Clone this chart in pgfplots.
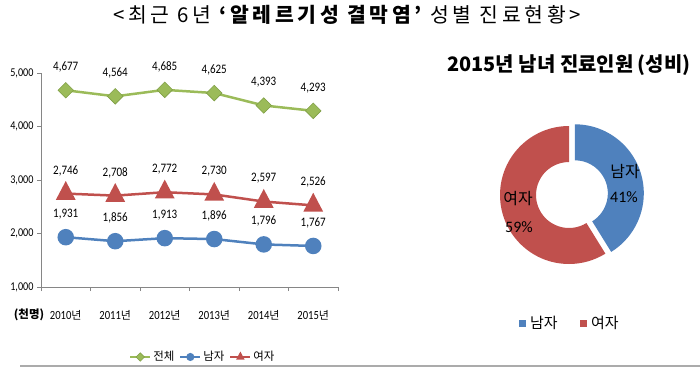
\documentclass[border=0pt]{standalone}
\usepackage{pgfplots}
\pgfplotsset{compat=1.18}
\usepackage{fontspec}
\setmainfont{Carlito}
\newfontfamily\kr{Noto Sans CJK KR}
\newfontfamily\krt[LetterSpace=18]{Noto Sans CJK KR}
\newfontfamily\numf[FakeStretch=0.85]{Carlito}
\definecolor{cgreen}{HTML}{9BBB59}
\definecolor{cgreenD}{HTML}{7F9F45}
\definecolor{cblue}{HTML}{4F81BD}
\definecolor{cred}{HTML}{C0504D}
\definecolor{axgray}{HTML}{868686}
\newcommand{\yr}[1]{{\numf\fontsize{12.5}{14}\selectfont #1}{\kr\fontsize{11}{13}\selectfont 년}}
\begin{document}
\begin{tikzpicture}[x=1bp,y=1bp]
\useasboundingbox (0,0) rectangle (700,373);
% main title
\node at (347,358) {\krt\fontsize{20.5}{23}\selectfont <최근 6년 {\bfseries ‘알레르기성 결막염’} 성별 진료현황>};
% bottom rule
\draw[line width=2bp, color=black!33] (20,7) -- (700,7);

\begin{axis}[
  at={(41bp,86bp)}, anchor=south west,
  scale only axis, width=297bp, height=214bp,
  xmin=-0.5, xmax=5.5, ymin=1000, ymax=5000,
  axis x line*=bottom, axis y line*=left,
  axis line style={draw=axgray, line width=0.8bp, -},
  xtick={-0.5,0.5,...,5.5}, xticklabels={},
  ytick={1000,2000,3000,4000,5000},
  yticklabels={{1,000},{2,000},{3,000},{4,000},{5,000}},
  tick align=outside, major tick length=4bp,
  tick style={draw=axgray, line width=0.8bp},
  yticklabel style={font=\numf\fontsize{12}{13}\selectfont, text=black},
  clip=false,
  nodes near coords={\pgfmathprintnumber[assume math mode=true,fixed,precision=0,1000 sep={,}]{\pgfplotspointmeta}},
  nodes near coords style={font=\numf\fontsize{13}{14}\selectfont, anchor=center, yshift=23bp, text=black},
  legend style={at={(0.545,-0.327)}, anchor=center, draw=none, fill=none,
    legend columns=3, font=\kr\fontsize{11.5}{13}\selectfont,
    /tikz/every even column/.append style={column sep=3bp},
    inner sep=0pt},
  legend image code/.code={\draw[mark repeat=2,mark phase=2,#1,mark size=3bp,line width=2bp] plot coordinates {(0bp,0bp) (10bp,0bp) (20bp,0bp)};},
]
\addplot[color=cgreen, line width=2.5bp, mark=square*, mark size=5.5bp,
  mark options={rotate=45, fill=cgreen, draw=cgreenD, line width=0.6bp}]
  coordinates {(0,4677) (1,4564) (2,4685) (3,4625) (4,4393) (5,4293)};
\addlegendentry{전체}
\addplot[color=cblue, line width=2.5bp, mark=*, mark size=7bp,
  mark options={fill=cblue, draw=cblue}]
  coordinates {(0,1931) (1,1856) (2,1913) (3,1896) (4,1796) (5,1767)};
\addlegendentry{남자}
\addplot[color=cred, line width=2.5bp, mark=triangle*, mark size=9bp,
  mark options={fill=cred, draw=cred, yscale=1.1}]
  coordinates {(0,2746) (1,2708) (2,2772) (3,2730) (4,2597) (5,2526)};
\addlegendentry{여자}
\foreach \i/\y in {0/2010,1/2011,2/2012,3/2013,4/2014,5/2015}{
  \edef\tmp{\noexpand\node at (axis cs:\i,1000) [yshift=-28bp] {\noexpand\yr{\y}};}\tmp
}
\end{axis}
\node at (29,58) {\kr\bfseries\fontsize{11.5}{13}\selectfont (천명)};

% donut title
\node at (569,308) {\kr\bfseries\fontsize{20}{23}\selectfont 2015년 남녀 진료인원 (성비)};

\pgfmathsetmacro{\male}{1767}
\pgfmathsetmacro{\female}{2526}
\pgfmathsetmacro{\ang}{360*(\male/(\male+\female))}
\begin{axis}[
  at={(569bp,178bp)}, anchor=center,
  scale only axis, width=140bp, height=140bp,
  xmin=-70, xmax=70, ymin=-70, ymax=70,
  hide axis, clip=false]
\fill[cblue] (axis cs:{5.8+69*cos(90)},{1.7+69*sin(90)})
  arc[start angle=90, end angle={90-\ang}, radius=69bp]
  -- (axis cs:{5.8+33*cos(90-\ang)},{1.7+33*sin(90-\ang)})
  arc[start angle={90-\ang}, end angle=90, radius=33bp] -- cycle;
\fill[cred] (axis cs:0,69)
  arc[start angle=90, end angle={450-\ang}, radius=69bp]
  -- (axis cs:{33*cos(450-\ang)},{33*sin(450-\ang)})
  arc[start angle={450-\ang}, end angle=90, radius=33bp] -- cycle;
\end{axis}
\node at (625,201) {\kr\fontsize{16}{18}\selectfont 남자};
\node at (624,176) {\fontsize{16}{18}\selectfont 41\%};
\node at (518,174) {\kr\fontsize{16}{18}\selectfont 여자};
\node at (519,146) {\fontsize{16}{18}\selectfont 59\%};

% donut legend
\fill[cblue] (519,46.5) rectangle (526,53.5);
\node[anchor=west, inner sep=0pt] at (530,50) {\kr\fontsize{15}{17}\selectfont 남자};
\fill[cred] (580,46.5) rectangle (587,53.5);
\node[anchor=west, inner sep=0pt] at (591,50) {\kr\fontsize{15}{17}\selectfont 여자};
\end{tikzpicture}
\end{document}
